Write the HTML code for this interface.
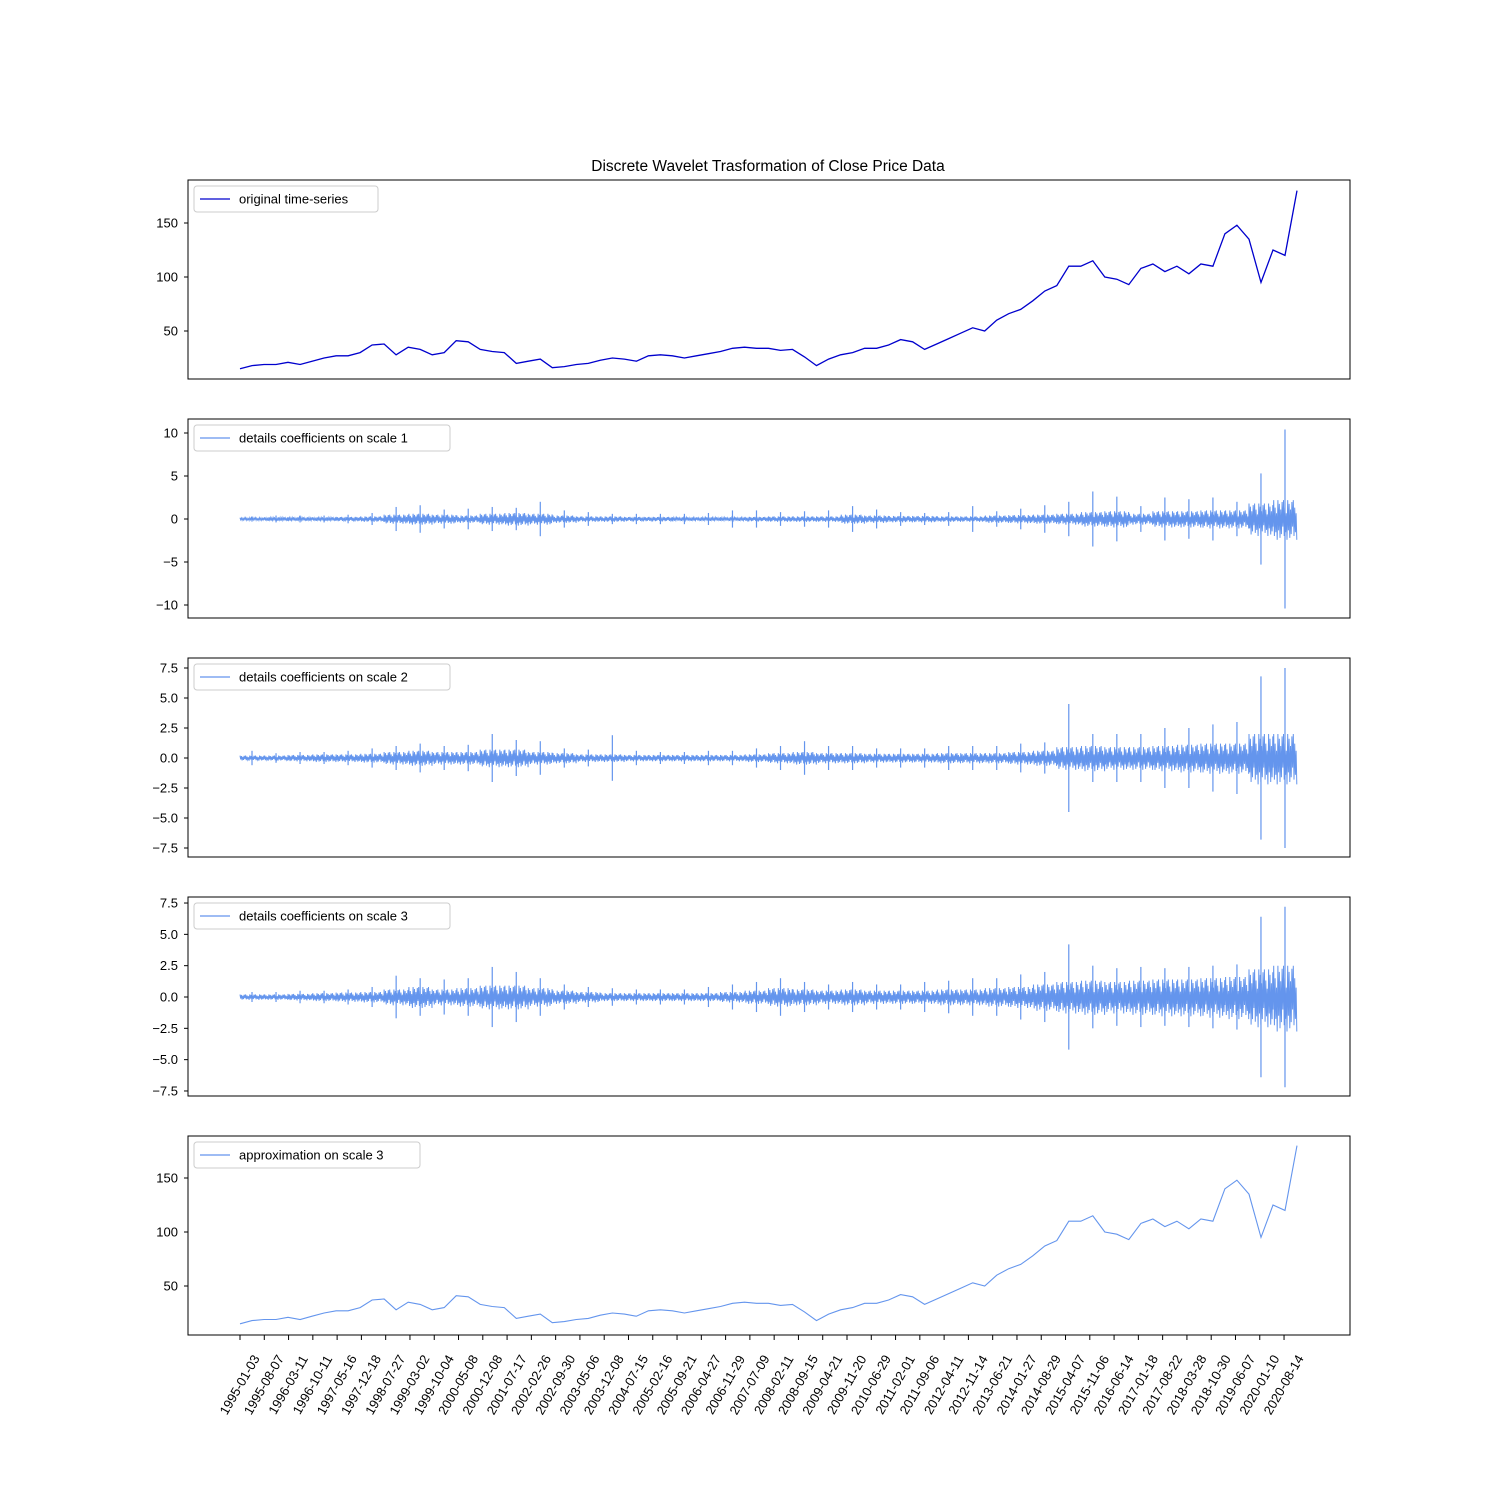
<!DOCTYPE html>
<html><head><meta charset="utf-8"><style>
body{margin:0;background:#fff}
svg text{font-family:"Liberation Sans","DejaVu Sans",sans-serif;font-size:13px;fill:#000}
</style></head><body>
<svg id="c" width="1500" height="1500" xmlns="http://www.w3.org/2000/svg"></svg>
<script>
const dates=["1995-01-03","1995-08-07","1996-03-11","1996-10-11","1997-05-16","1997-12-18","1998-07-27","1999-03-02","1999-10-04","2000-05-08","2000-12-08","2001-07-17","2002-02-26","2002-09-30","2003-05-06","2003-12-08","2004-07-15","2005-02-16","2005-09-21","2006-04-27","2006-11-29","2007-07-09","2008-02-11","2008-09-15","2009-04-21","2009-11-20","2010-06-29","2011-02-01","2011-09-06","2012-04-11","2012-11-14","2013-06-21","2014-01-27","2014-08-29","2015-04-07","2015-11-06","2016-06-14","2017-01-18","2017-08-22","2018-03-28","2018-10-30","2019-06-07","2020-01-10","2020-08-14"];
const price=[15,18,19,19,21,19,22,25,27,27,30,37,38,28,35,33,28,30,41,40,33,31,30,20,22,24,16,17,19,20,23,25,24,22,27,28,27,25,27,29,31,34,35,34,34,32,33,26,18,24,28,30,34,34,37,42,40,33,38,43,48,53,50,60,66,70,78,87,92,110,110,115,100,98,93,108,112,105,110,103,112,110,140,148,135,95,125,120,180];
const core1=[0.15,0.2,0.2,0.2,0.25,0.3,0.5,0.6,0.5,0.4,0.6,0.7,0.6,0.4,0.3,0.3,0.25,0.25,0.2,0.2,0.2,0.25,0.3,0.3,0.3,0.5,0.4,0.35,0.35,0.3,0.3,0.4,0.45,0.5,0.6,0.8,0.9,0.6,0.9,0.9,1.0,1.0,1.8,2.2];
const peak1=[0.3,0.4,0.4,0.4,0.5,0.7,1.4,1.6,1.1,1.2,1.4,1.3,2.0,1.0,0.8,0.6,0.6,0.6,0.6,0.7,1.0,1.0,0.8,0.9,1.0,1.5,1.1,0.8,0.7,0.8,1.5,0.9,1.2,1.6,2.0,3.2,2.6,1.5,2.5,2.3,2.5,2.0,5.3,10.4];
const core2=[0.2,0.2,0.25,0.3,0.3,0.35,0.5,0.6,0.5,0.5,0.7,0.7,0.5,0.4,0.3,0.3,0.25,0.25,0.25,0.25,0.25,0.3,0.4,0.5,0.4,0.4,0.35,0.35,0.35,0.4,0.4,0.4,0.5,0.6,0.9,1.0,0.9,0.9,1.0,1.1,1.2,1.2,2.0,2.0];
const peak2=[0.6,0.4,0.5,0.5,0.6,0.8,1.0,1.2,1.0,1.1,2.0,1.5,1.4,0.8,0.7,1.9,0.6,0.5,0.5,0.6,0.6,0.8,1.0,1.4,1.0,1.0,0.8,0.8,0.8,1.0,1.0,1.0,1.2,1.3,4.5,2.0,2.0,2.0,2.5,2.5,2.8,3.0,6.8,7.5];
const core3=[0.2,0.2,0.25,0.3,0.35,0.4,0.6,0.8,0.6,0.7,0.9,0.9,0.7,0.5,0.4,0.3,0.3,0.3,0.3,0.3,0.4,0.5,0.7,0.6,0.5,0.6,0.5,0.5,0.5,0.6,0.6,0.7,0.8,1.0,1.2,1.3,1.2,1.3,1.4,1.4,1.5,1.6,2.2,2.5];
const peak3=[0.4,0.4,0.5,0.5,0.6,0.8,1.7,1.5,1.4,1.5,2.4,2.0,1.5,1.0,0.8,0.7,0.6,0.6,0.6,0.8,1.0,1.2,1.5,1.2,1.0,1.2,1.0,1.0,1.2,1.3,1.5,1.5,1.8,2.0,4.2,2.5,2.3,2.4,2.3,2.4,2.5,2.6,6.4,7.2];

const svg=document.getElementById('c');const NS="http://www.w3.org/2000/svg";
function mk(t,a,p){const e=document.createElementNS(NS,t);for(const k in a)e.setAttribute(k,a[k]);(p||svg).appendChild(e);return e;}
const X0=240,X1=1297;
const panels=[
 {top:180,name:'original',ticks:[50,100,150],y:v=>331-(v-50)*1.08,lbl:'original time-series',lw:184,col:'#0000cd'},
 {top:419,name:'scale1',ticks:[-10,-5,0,5,10],y:v=>519-v*8.6,lbl:'details coefficients on scale 1',lw:256,col:'#6495ed'},
 {top:658,name:'scale2',ticks:[-7.5,-5,-2.5,0,2.5,5,7.5],y:v=>758-v*12,lbl:'details coefficients on scale 2',lw:256,col:'#6495ed'},
 {top:897,name:'scale3',ticks:[-7.5,-5,-2.5,0,2.5,5,7.5],y:v=>997-v*12.53,lbl:'details coefficients on scale 3',lw:256,col:'#6495ed'},
 {top:1136,name:'approx',ticks:[50,100,150],y:v=>1286-(v-50)*1.08,lbl:'approximation on scale 3',lw:226,col:'#6495ed'}];
let t=mk('text',{x:768,y:171,'text-anchor':'middle',style:'font-size:15.5px'});t.textContent='Discrete Wavelet Trasformation of Close Price Data';


function fmt(v,p){return p.name.startsWith('scale2')||p.name.startsWith('scale3')?(v<0?'\u2212':'')+Math.abs(v).toFixed(1):(v<0?'\u2212':'')+Math.abs(v);}
const noise=[null,[core1,peak1],[core2,peak2],[core3,peak3]];
const pat=[1,-0.6,0.8,-1,0.5,-0.8,0.9,-0.4,1,-0.9,0.6,-0.7,0.3,-1.1];
panels.forEach((p,pi)=>{
 const g=mk('g',{});
 
 
 if(pi===0||pi===4){
  const pts=price.map((v,i)=>(X0+i*(X1-X0)/(price.length-1)).toFixed(1)+','+p.y(v).toFixed(1)).join(' ');
  const l=mk('polyline',{points:pts,fill:'none',stroke:p.col,'stroke-width':pi===0?1.3:1.1},g);
  
  
 } else {
  const [core,peak]=noise[pi];const bw=(X1-X0)/core.length;let pts=[];let k=0;
  core.forEach((c,i)=>{for(let x=X0+i*bw;x<X0+(i+1)*bw;x+=0.7){pts.push(x.toFixed(1)+','+p.y(c*pat[k%pat.length]).toFixed(1));k++;}});
  const l=mk('polyline',{points:pts.join(' '),fill:'none',stroke:p.col,'stroke-width':1},g);
  
  
  peak.forEach((v,i)=>{const x=X0+(i+0.5)*bw;
   const s=mk('line',{x1:x,x2:x,y1:p.y(v),y2:p.y(-v),stroke:p.col,'stroke-width':1.2},g);
   
   });
 }
 const r=mk('rect',{x:188,y:p.top,width:1162,height:199,fill:'none',stroke:'#000','stroke-width':1},g);
 
 
 p.ticks.forEach(v=>{const y=p.y(v);mk('line',{x1:184,x2:188,y1:y,y2:y,stroke:'#000'},g);
  const tt=mk('text',{x:178,y:y+4.5,'text-anchor':'end'},g);tt.textContent=fmt(v,p);
  
  });
 const lg=mk('g',{},g);
 
 
 mk('rect',{x:194,y:p.top+6,width:p.lw,height:26,rx:3,fill:'#fff','fill-opacity':0.8,stroke:'#ccc'},lg);
 mk('line',{x1:200,x2:230,y1:p.top+19,y2:p.top+19,stroke:p.col,'stroke-width':1.2},lg);
 const lt=mk('text',{x:239,y:p.top+23.5},lg);lt.textContent=p.lbl;
});
dates.forEach((d,i)=>{const x=X0+i*24.28;mk('line',{x1:x,x2:x,y1:1335,y2:1340,stroke:'#000'});
 const tt=mk('text',{x:x,y:1389,'text-anchor':'middle',transform:`rotate(-60 ${x} 1385)`});tt.textContent=d;
 
 });
</script>
</body></html>
